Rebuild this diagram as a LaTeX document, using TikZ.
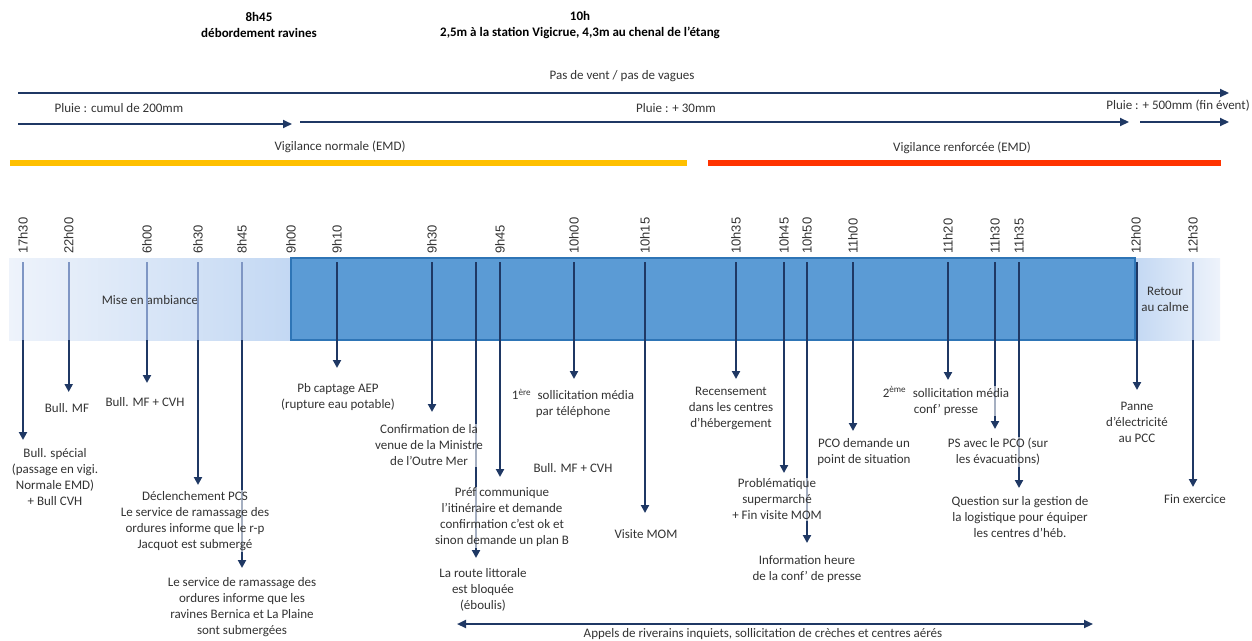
\documentclass[tikz,border=0pt]{standalone}
\usepackage{fontspec}
\setmainfont{Carlito}
\newfontfamily\tickfont{Liberation Sans}
\usetikzlibrary{arrows.meta}
\definecolor{navy}{HTML}{1F3864}
\definecolor{boxfill}{HTML}{5B9BD5}
\definecolor{boxline}{HTML}{2E75B6}
\definecolor{lightA}{HTML}{EEF3FB}
\definecolor{lightB}{HTML}{C3D8F3}
\definecolor{tickgray}{HTML}{7F96C4}
\definecolor{vigy}{HTML}{FFC000}
\definecolor{vigr}{HTML}{FF3300}
\definecolor{txt}{HTML}{333333}
\tikzset{
  lbl/.style={font=\fontsize{13}{16}\selectfont, text=txt, align=center, inner sep=1pt},
  evtext/.style={lbl, fill=white, fill opacity=0.6, text opacity=1},
  head/.style={font=\fontsize{13}{16}\selectfont\bfseries, text=black, align=center, inner sep=1pt},
  ticklabel/.style={font=\tickfont\fontsize{13}{15}\selectfont, text=txt, rotate=90, anchor=west, inner sep=0pt},
  toparrow/.style={draw=navy, line width=2.1pt, -{Triangle[length=9pt,width=8pt]}},
  evarrow/.style={draw=navy, line width=2.1pt, -{Triangle[length=8pt,width=8pt]}},
  botharrow/.style={draw=navy, line width=2.1pt, {Triangle[length=9pt,width=8pt]}-{Triangle[length=9pt,width=8pt]}},
}
\begin{document}
\begin{tikzpicture}[x=1pt,y=-1pt]
\useasboundingbox (0,0) rectangle (1252,640);

% headings
\node[head] (h845) at (259,25) {8h45\\débordement ravines};
\node[head] (h10) at (580,25) {10h\\2,5m à la station Vigicrue, 4,3m au chenal de l’étang};

% top arrows
\node[lbl] (vent) at (622,76) {Pas de vent / pas de vagues};
\coordinate (v1) at (18,93); \coordinate (v2) at (1229,93);
\draw[toparrow] (v1) -- (v2);
\node[lbl] (pl1) at (119,108) {Pluie : cumul de 200mm};
\node[lbl] (pl2) at (676,108) {Pluie : + 30mm};
\node[lbl] (pl3) at (1178,106) {Pluie : + 500mm (fin évent)};
\coordinate (p1a) at (18,124); \coordinate (p1b) at (292,124);
\coordinate (p2a) at (300,122); \coordinate (p2b) at (1129,122);
\coordinate (p3a) at (1140,122); \coordinate (p3b) at (1229,122);
\draw[toparrow] (p1a) -- (p1b);
\draw[toparrow] (p2a) -- (p2b);
\draw[toparrow] (p3a) -- (p3b);

% vigilance bars
\node[lbl] (vn) at (340,147) {Vigilance normale (EMD)};
\node[lbl] (vr) at (962,148) {Vigilance renforcée (EMD)};
\fill[vigy] (10,159.5) rectangle (687,166);
\fill[vigr] (708,159.5) rectangle (1221,166);

% band
\shade[left color=lightA, right color=lightB] (9,258) rectangle (291,340);
\shade[left color=lightB, right color=lightA] (1135,258) rectangle (1220,340);
\draw[fill=boxfill, draw=boxline, line width=1.5pt] (291,258) rectangle (1135,340);
\node[lbl] (mise) at (150,300) {Mise en ambiance};
\node[lbl] (retour) at (1165,299) {Retour\\au calme};

% tick labels
\foreach \x/\lab in {23/17h30, 68.7/22h00, 147/6h00, 198/6h30, 242/8h45, 291/9h00,
  337/9h10, 432/9h30, 500/9h45, 574/10h00, 645/10h15, 736/10h35, 784/10h45,
  807/10h50, 853/11h00, 948/11h20, 995/11h30, 1019/11h35, 1136/12h00, 1193/12h30}
  \node[ticklabel] (lab-\lab) at (\x,254) {\lab};

% tick lines and arrows
\foreach \n/\x/\tip/\c in {a/23/440/tickgray, b/68.7/392/tickgray, c/147/383/tickgray,
  d/198/485/tickgray, e/242/568/tickgray, f/337/368/navy, g/432/412/navy,
  h/476/558/navy, i/500/477/navy, j/574/379/navy, k/645/513/navy, l/736/379/navy,
  m/784/473/navy, n/807/543/navy, o/853/431/navy, p/948/380/navy, q/995/429/navy,
  r/1019/488/navy, s/1137/390/navy, t/1193/487/tickgray}
{
  \coordinate (top-\n) at (\x,262);
  \coordinate (bot-\n) at (\x,340);
  \coordinate (tip-\n) at (\x,\tip);
  \draw[draw=\c, line width=1.8pt] (top-\n) -- (bot-\n);
  \draw[evarrow] (bot-\n) -- (tip-\n);
}

% event texts
\node[evtext] (n1730) at (55,477) {Bull. spécial\\(passage en vigi.\\Normale EMD)\\+ Bull CVH};
\node[evtext] (n2200) at (67,408) {Bull. MF};
\node[evtext] (n600) at (145,402) {Bull. MF + CVH};
\node[evtext] (n630) at (195,521) {Déclenchement PCS\\Le service de ramassage des\\ordures informe que le r-p\\Jacquot est submergé};
\node[evtext] (n845) at (242,607.5) {Le service de ramassage des\\ordures informe que les\\ravines Bernica et La Plaine\\sont submergées};
\node[evtext] (n910) at (338,397) {Pb captage AEP\\(rupture eau potable)};
\node[evtext] (n930) at (429,445.5) {Confirmation de la\\venue de la Ministre\\de l’Outre Mer};
\node[evtext] (nroute) at (483,590) {La route littorale\\est bloquée\\(éboulis)};
\node[evtext] (n945) at (502,517.5) {Préf communique\\l’itinéraire et demande\\confirmation c’est ok et\\sinon demande un plan B};
\node[evtext] (n1000) at (573,403.5) {1\textsuperscript{ère}\enspace sollicitation média\\par téléphone};
\node[evtext] (nbull) at (573,468) {Bull. MF + CVH};
\node[evtext] (n1015) at (646,534) {Visite MOM};
\node[evtext] (n1035) at (731,408) {Recensement\\dans les centres\\d’hébergement};
\node[evtext] (n1045) at (777,499.5) {Problématique\\supermarché\\+ Fin visite MOM};
\node[evtext] (n1050) at (807,569) {Information heure\\de la conf’ de presse};
\node[evtext] (n1100) at (864,452.5) {PCO demande un\\point de situation};
\node[evtext] (n1120) at (946,401) {2\textsuperscript{ème}\enspace sollicitation média\\conf’ presse};
\node[evtext] (n1130) at (998,452) {PS avec le PCO (sur\\les évacuations)};
\node[evtext] (n1135) at (1020,517.5) {Question sur la gestion de\\la logistique pour équiper\\les centres d’héb.};
\node[evtext] (n1200) at (1137,422.5) {Panne\\d’électricité\\au PCC};
\node[evtext] (n1230) at (1195,499) {Fin exercice};

% bottom arrow
\coordinate (ba) at (457,624); \coordinate (bb) at (1093,624);
\draw[botharrow] (ba) -- (bb);
\node[lbl] (appels) at (763,634) {Appels de riverains inquiets, sollicitation de crèches et centres aérés};
\end{tikzpicture}
\end{document}
